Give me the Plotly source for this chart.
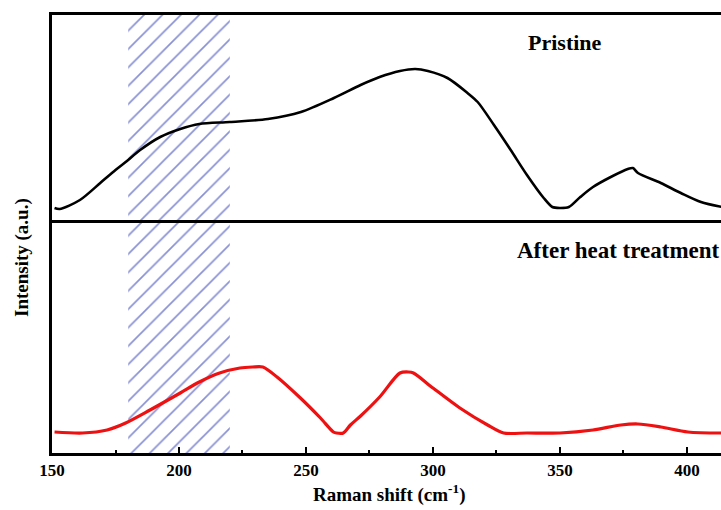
import plotly.graph_objects as go

# Raman shift (cm^-1) and intensities (a.u.)
x_pristine = [151, 153, 161, 169, 175, 179, 184.7, 192.6, 200.5, 208, 220, 235, 248, 261,
              271.5, 279, 287, 293, 298, 305.7, 313.6, 317.6, 324, 330.6, 337, 343.6, 347,
              350, 353.5, 358, 363, 370, 376.7, 378.7, 380.7, 389.7, 397.6, 405.5, 413.8]
y_pristine = [12, 11, 20, 37, 50, 58, 70, 83, 91, 96, 98, 101, 108, 122,
              135, 143, 149, 151, 149, 142, 127, 118, 95, 70, 45, 22, 13,
              12, 13, 23, 33, 43, 51, 52, 47, 37, 27, 18, 13]

x_heat = [151, 162, 171.7, 179, 188.6, 200.5, 208, 216, 224, 229, 233, 238.6, 247.8,
          255.7, 260.8, 262, 264.7, 267.5, 271.5, 279, 287, 290.4, 292.3, 300, 310.6,
          321.5, 327.8, 337, 350, 363, 374, 380.7, 389.7, 400.4, 413.8]
y_heat = [21, 20, 23, 30, 43, 60, 71, 80, 85, 86, 86, 76, 55,
          35, 21, 20, 20, 28, 37, 56, 80, 81, 80, 65, 45,
          28, 20, 20, 20, 23, 28, 29, 26, 21, 20]

hatch_band = [180, 220]
x_range = [150, 413.4]
x_ticks = [150, 200, 250, 300, 350, 400]
label_top = "Pristine"
label_bottom = "After heat treatment"

FONT = "Liberation Serif, Times New Roman, serif"
W, H = 721, 510
ml, mr, mt, mb = 52, 0, 15, 57
PW, PH = W - ml - mr, H - mt - mb
split = 233 / PH
Y_BOT = [0, 233]
Y_TOP = [0, 205]

fig = go.Figure()


def hatch(xa, ya, yr):
    fig.add_trace(go.Scatter(
        x=[hatch_band[0], hatch_band[1], hatch_band[1], hatch_band[0], hatch_band[0]],
        y=[yr[0], yr[0], yr[1], yr[1], yr[0]], mode="none", fill="toself",
        xaxis=xa, yaxis=ya, fillcolor="rgba(0,0,0,0)",
        fillpattern=dict(shape="/", fgcolor="#1222a8", bgcolor="rgba(255,255,255,0)",
                         size=13, solidity=0.13),
        showlegend=False, hoverinfo="skip"))


hatch("x", "y", Y_BOT)
hatch("x2", "y2", Y_TOP)

fig.add_trace(go.Scatter(x=x_heat, y=y_heat, mode="lines", xaxis="x", yaxis="y",
                         line=dict(color="#ee1111", width=3.2, shape="spline", smoothing=0.8),
                         showlegend=False, hoverinfo="skip"))
fig.add_trace(go.Scatter(x=x_pristine, y=y_pristine, mode="lines", xaxis="x2", yaxis="y2",
                         line=dict(color="black", width=2.6, shape="spline", smoothing=0.8),
                         showlegend=False, hoverinfo="skip"))

axis_font = dict(family=FONT, size=17, color="black", weight="bold")
fig.update_layout(
    width=W, height=H,
    margin=dict(l=ml, r=mr, t=mt, b=mb),
    paper_bgcolor="white", plot_bgcolor="white",
    xaxis=dict(domain=[0, 1], anchor="y", range=x_range, tickvals=x_ticks,
               ticks="inside", ticklen=6, tickwidth=2, tickcolor="black",
               minor=dict(dtick=25, tick0=150, ticks="inside", ticklen=3, tickwidth=2, tickcolor="black"),
               showline=True, linewidth=3, linecolor="black", showgrid=False, zeroline=False,
               tickfont=axis_font),
    yaxis=dict(domain=[0, split], anchor="x", range=Y_BOT, showticklabels=False, ticks="",
               showline=True, linewidth=3, linecolor="black", showgrid=False, zeroline=False),
    xaxis2=dict(domain=[0, 1], anchor="y2", matches="x", showticklabels=False, ticks="",
                showline=True, mirror=True, linewidth=3, linecolor="black", showgrid=False, zeroline=False),
    yaxis2=dict(domain=[split, 1], anchor="x2", range=Y_TOP, showticklabels=False, ticks="",
                showline=True, linewidth=3, linecolor="black", showgrid=False, zeroline=False),
    annotations=[
        dict(text=f"<b>{label_top}</b>", xref="paper", yref="paper",
             x=(565 - 52) / PW, y=(453 - 42) / PH, showarrow=False,
             font=dict(family=FONT, size=22, color="black"), xanchor="center", yanchor="middle"),
        dict(text=f"<b>{label_bottom}</b>", xref="paper", yref="paper",
             x=(618 - 52) / PW, y=(453 - 250) / PH, showarrow=False,
             font=dict(family=FONT, size=23, color="black"), xanchor="center", yanchor="middle"),
        dict(text="<b>Intensity (a.u.)</b>", xref="paper", yref="paper",
             x=(22 - 52) / PW, y=(453 - 258) / PH, showarrow=False, textangle=-90,
             font=dict(family=FONT, size=19, color="black"), xanchor="center", yanchor="middle"),
        dict(text="<b>Raman shift (cm<sup>-1</sup>)</b>", xref="paper", yref="paper",
             x=(389 - 52) / PW, y=(453 - 493) / PH, showarrow=False,
             font=dict(family=FONT, size=19, color="black"), xanchor="center", yanchor="middle"),
    ],
)

fig.write_html("out.html", config={"displayModeBar": False},
               post_script="document.body.style.margin='0';document.body.style.overflow='hidden';")
